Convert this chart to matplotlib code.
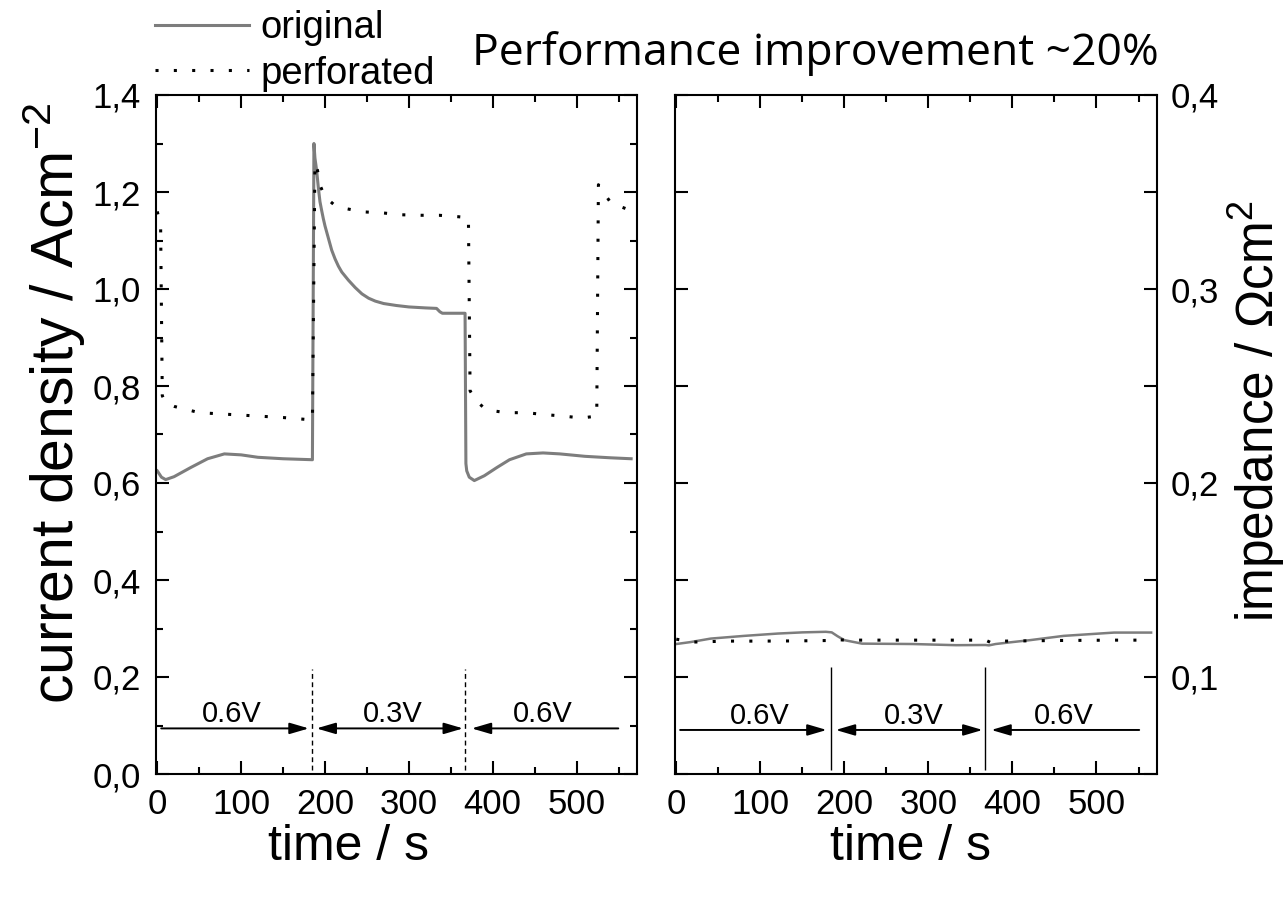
import matplotlib
matplotlib.use("Agg")
import matplotlib.pyplot as plt
from matplotlib.ticker import MultipleLocator, FixedLocator, FixedFormatter

plt.rcParams['font.family'] = ['Liberation Sans', 'DejaVu Sans']
plt.rcParams['mathtext.default'] = 'regular'

# ---------------- data ----------------
# left panel: current density (A cm^-2) vs time (s)
t_orig = [0, 5, 10, 20, 40, 60, 80, 100, 120, 150, 185, 186.8, 188, 190, 192, 194, 196, 198,
          200, 204, 208, 212, 216, 220, 228, 236, 244, 252, 260, 270, 285, 300, 320, 333,
          337, 340, 367, 368, 369, 372, 378, 390, 405, 420, 440, 460, 480, 510, 540, 565]
j_orig = [0.625, 0.612, 0.607, 0.613, 0.632, 0.650, 0.660, 0.658, 0.653, 0.650, 0.648, 1.300,
          1.270, 1.245, 1.210, 1.180, 1.162, 1.145, 1.130, 1.105, 1.080, 1.062, 1.047, 1.035,
          1.018, 1.003, 0.990, 0.981, 0.975, 0.970, 0.966, 0.963, 0.961, 0.960, 0.953, 0.950,
          0.950, 0.640, 0.625, 0.612, 0.605, 0.615, 0.632, 0.648, 0.660, 0.662, 0.660, 0.655,
          0.652, 0.650]

t_perf = [0, 4, 6, 10, 20, 50, 100, 150, 185, 188, 191, 195, 200, 210, 224, 246, 268, 292,
          314, 336, 359, 371, 373, 380, 392, 416, 440, 462, 484, 506, 524, 526, 541, 563]
j_perf = [1.160, 1.130, 0.780, 0.765, 0.758, 0.745, 0.740, 0.735, 0.730, 1.260, 1.245, 1.210,
          1.190, 1.175, 1.166, 1.159, 1.157, 1.153, 1.152, 1.152, 1.149, 1.147, 0.790, 0.770,
          0.751, 0.745, 0.745, 0.741, 0.738, 0.734, 0.738, 1.215, 1.177, 1.163]

# right panel: impedance (Ohm cm^2) vs time (s)
t_imp_o = [0, 17, 41, 81, 121, 150, 178, 185, 192, 200, 221, 281, 333, 368, 372, 380, 400,
           421, 461, 521, 565]
z_imp_o = [0.1170, 0.1180, 0.1198, 0.1212, 0.1224, 0.1230, 0.1233, 0.1230, 0.1210, 0.1190,
           0.1172, 0.1170, 0.1164, 0.1165, 0.1163, 0.1170, 0.1180, 0.1190, 0.1212, 0.1229,
           0.1229]
t_imp_p = [0, 20, 60, 100, 140, 180, 186, 200, 250, 300, 350, 368, 375, 390, 450, 520, 565]
z_imp_p = [0.1195, 0.1180, 0.1185, 0.1185, 0.1186, 0.1188, 0.1195, 0.1190, 0.1190, 0.1190,
           0.1190, 0.1190, 0.1176, 0.1185, 0.1188, 0.1190, 0.1190]

series_names = ['original', 'perforated']
phase_labels = ['0.6V', '0.3V', '0.6V']
switch_times = [184, 367]

x_ticks = [0, 100, 200, 300, 400, 500]
x_ticklabels = ['0', '100', '200', '300', '400', '500']
yl_ticks = [0.0, 0.2, 0.4, 0.6, 0.8, 1.0, 1.2, 1.4]
yl_ticklabels = ['0,0', '0,2', '0,4', '0,6', '0,8', '1,0', '1,2', '1,4']
yr_ticks = [0.1, 0.2, 0.3, 0.4]
yr_ticklabels = ['0,1', '0,2', '0,3', '0,4']

# ---------------- figure ----------------
W, H = 1288, 900
fig = plt.figure(figsize=(W / 100, H / 100), dpi=100)
ax1 = fig.add_axes([156 / W, 126 / H, 481 / W, 679 / H])
ax2 = fig.add_axes([675 / W, 126 / H, 482 / W, 679 / H])

gray = '#7d7d7d'
dot = (0, (1, 5))

l1, = ax1.plot(t_orig, j_orig, color=gray, lw=2.2, label=series_names[0])
l2, = ax1.plot(t_perf, j_perf, color='black', lw=2.2, ls=dot, label=series_names[1])
ax2.plot(t_imp_o, z_imp_o, color=gray, lw=1.8)
ax2.plot(t_imp_p, z_imp_p, color='black', lw=2.2, ls=dot)

for ax in (ax1, ax2):
    ax.set_xlim(-1.5, 572)
    ax.xaxis.set_major_locator(FixedLocator(x_ticks))
    ax.xaxis.set_major_formatter(FixedFormatter(x_ticklabels))
    ax.xaxis.set_minor_locator(MultipleLocator(50))
    ax.tick_params(which='both', direction='in', top=True, right=True, width=1.5,
                   labelsize=25, pad=10)
    ax.tick_params(which='major', length=9.5)
    ax.tick_params(which='minor', length=4.8)
    for s in ax.spines.values():
        s.set_linewidth(1.5)

ax1.set_ylim(0, 1.4)
ax1.yaxis.set_major_locator(FixedLocator(yl_ticks))
ax1.yaxis.set_major_formatter(FixedFormatter(yl_ticklabels))
ax1.yaxis.set_minor_locator(MultipleLocator(0.1))
ax1.tick_params(axis='y', pad=11)

ax2.set_ylim(0.05, 0.4)
ax2.yaxis.set_major_locator(FixedLocator(yr_ticks))
ax2.yaxis.set_major_formatter(FixedFormatter(yr_ticklabels))
ax2.yaxis.set_minor_locator(MultipleLocator(0.05))
ax2.tick_params(axis='y', which='minor', length=9.5)
ax2.tick_params(axis='y', labelleft=False, labelright=True, pad=10)

# labels
for ax, xc in ((ax1, (349 - 156) / 481), (ax2, (910 - 675) / 482)):
    ax.set_xlabel('time / s', fontsize=36)
    ax.xaxis.set_label_coords(xc, (774 - 847) / 679)
    ax.xaxis.label.set_va('center')

ax1.set_ylabel('current density / Acm$^{-2}$', fontsize=42.5)
ax1.yaxis.label.set_va('center')
ax1.yaxis.set_label_coords((54 - 156) / 481, (774 - 403) / 679)

ax2.yaxis.set_label_position('right')
ax2.set_ylabel('impedance / \u03a9cm$^{2}$', fontsize=37)
ax2.yaxis.label.set_va('center')
ax2.yaxis.set_label_coords((1257 - 675) / 482, (774 - 411) / 679)

# phase annotations
arrow_kw = dict(color='black', lw=1.4, shrinkA=0, shrinkB=0, mutation_scale=20)
head = '-|>,head_length=0.58,head_width=0.17'
both = '<|-|>,head_length=0.58,head_width=0.17'

# left panel
ax1.vlines(switch_times, 0.008, 0.217, colors='black', lw=1.0, linestyles=(0, (3.5, 2.5)))
ya = 0.094
ax1.annotate('', xy=(180.7, ya), xytext=(4.7, ya), arrowprops=dict(arrowstyle=head, **arrow_kw))
ax1.annotate('', xy=(364.6, ya), xytext=(189.8, ya), arrowprops=dict(arrowstyle=both, **arrow_kw))
ax1.annotate('', xy=(374.9, ya), xytext=(549.7, ya), arrowprops=dict(arrowstyle=head, **arrow_kw))
for xt, lab in zip([89, 281, 460], phase_labels):
    ax1.text(xt, 0.107, lab, ha='center', va='baseline', fontsize=21)

# right panel
ax2.vlines(switch_times, 0.052, 0.1054, colors='black', lw=1.0)
yb = 0.0727
ax2.annotate('', xy=(179, yb), xytext=(4.6, yb), arrowprops=dict(arrowstyle=head, **arrow_kw))
ax2.annotate('', xy=(364.5, yb), xytext=(189.7, yb), arrowprops=dict(arrowstyle=both, **arrow_kw))
ax2.annotate('', xy=(374.8, yb), xytext=(550.8, yb), arrowprops=dict(arrowstyle=head, **arrow_kw))
for xt, lab in zip([99, 283, 461], phase_labels):
    ax2.text(xt, 0.0759, lab, ha='center', va='baseline', fontsize=21)

# legend
fig.legend(handles=[l1, l2], loc='upper left', bbox_to_anchor=(155 / W, 1 - 10 / H),
           frameon=False, fontsize=27.5, handlelength=2.45, handletextpad=0.3,
           labelspacing=0.25, borderpad=0, borderaxespad=0)

# title
fig.text(815 / W, 1 - 54 / H, 'Performance improvement ~20%', ha='center', va='center',
         fontsize=32, family=['Open Sans', 'DejaVu Sans'])

fig.savefig('out.png', dpi=100)
